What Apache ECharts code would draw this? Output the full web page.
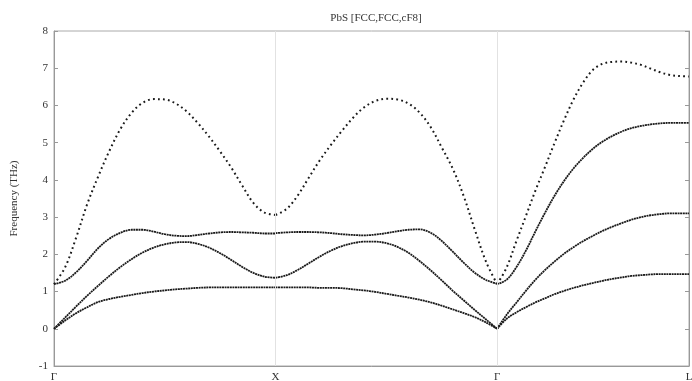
<!DOCTYPE html>
<html>
<head>
<meta charset="utf-8">
<script src="https://cdn.jsdelivr.net/npm/echarts@6/dist/echarts.min.js"></script>
<style>
  html, body { margin: 0; padding: 0; background: #fff; }
  #chart { width: 692px; height: 381px; }
</style>
</head>
<body>
<div id="chart"></div>
<script>
// High-symmetry path of the FCC Brillouin zone
const pathLabels = ['Γ', 'X', 'Γ', 'L'];
const pathTicks = [0, 1, 2, 2.866];
// Each segment is sampled at 21 q-points (start, length along the path)
const segStart = [0, 1, 2];
const segLength = [1, 1, 0.866];

// Phonon frequencies (THz), Γ → X
const taGX = [0, 0.22, 0.42, 0.58, 0.72, 0.80, 0.86, 0.91, 0.96, 1.00, 1.03, 1.06, 1.08, 1.10, 1.11, 1.11, 1.11, 1.11, 1.11, 1.11, 1.11];
const laGX = [0, 0.30, 0.60, 0.89, 1.16, 1.42, 1.66, 1.87, 2.05, 2.18, 2.27, 2.32, 2.33, 2.28, 2.18, 2.03, 1.85, 1.66, 1.50, 1.40, 1.37];
const toGX = [1.20, 1.29, 1.52, 1.83, 2.17, 2.42, 2.58, 2.66, 2.66, 2.61, 2.54, 2.50, 2.49, 2.52, 2.56, 2.59, 2.60, 2.59, 2.58, 2.56, 2.56];
const loGX = [1.20, 1.65, 2.45, 3.35, 4.10, 4.78, 5.37, 5.80, 6.07, 6.17, 6.16, 6.05, 5.83, 5.52, 5.16, 4.76, 4.33, 3.84, 3.38, 3.12, 3.06];

// X → Γ
const taXG = [1.11, 1.11, 1.11, 1.11, 1.10, 1.10, 1.09, 1.06, 1.03, 0.99, 0.94, 0.89, 0.84, 0.78, 0.71, 0.62, 0.52, 0.42, 0.31, 0.17, 0];
const laXG = [1.37, 1.44, 1.58, 1.76, 1.94, 2.10, 2.22, 2.30, 2.34, 2.34, 2.30, 2.20, 2.04, 1.82, 1.57, 1.30, 1.02, 0.76, 0.50, 0.25, 0];
const toXG = [2.57, 2.59, 2.60, 2.60, 2.59, 2.57, 2.54, 2.52, 2.51, 2.53, 2.57, 2.62, 2.66, 2.67, 2.58, 2.36, 2.07, 1.77, 1.50, 1.31, 1.21];
const loXG = [3.06, 3.22, 3.58, 4.06, 4.53, 4.94, 5.32, 5.67, 5.95, 6.12, 6.18, 6.16, 6.05, 5.81, 5.42, 4.87, 4.30, 3.55, 2.65, 1.80, 1.20];

// Γ → L
const taGL = [0, 0.27, 0.44, 0.58, 0.71, 0.82, 0.93, 1.02, 1.10, 1.17, 1.23, 1.29, 1.34, 1.38, 1.42, 1.44, 1.46, 1.47, 1.47, 1.47, 1.47];
const laGL = [0, 0.38, 0.70, 1.02, 1.32, 1.58, 1.81, 2.02, 2.20, 2.36, 2.50, 2.63, 2.74, 2.84, 2.93, 3.00, 3.05, 3.08, 3.10, 3.10, 3.10];
const toGL = [1.20, 1.32, 1.65, 2.10, 2.62, 3.12, 3.58, 3.98, 4.32, 4.60, 4.84, 5.03, 5.18, 5.30, 5.39, 5.45, 5.49, 5.52, 5.53, 5.53, 5.53];
const loGL = [1.20, 1.65, 2.35, 3.03, 3.72, 4.35, 5.00, 5.62, 6.18, 6.63, 6.96, 7.12, 7.17, 7.18, 7.15, 7.09, 6.99, 6.89, 6.82, 6.79, 6.78];

const branches = [
  { name: 'TA', segs: [taGX, taXG, taGL], sparse: false },
  { name: 'LA', segs: [laGX, laXG, laGL], sparse: false },
  { name: 'TO', segs: [toGX, toXG, toGL], sparse: false },
  { name: 'LO', segs: [loGX, loXG, loGL], sparse: true }
];

const serif = 'Liberation Serif, Times New Roman, serif';
const ink = '#1a1a1a';

const series = [];
branches.forEach(b => {
  b.segs.forEach((vals, s) => {
    const n = vals.length - 1;
    series.push({
      name: b.name,
      type: 'line',
      showSymbol: false,
      smooth: 0.35,
      silent: true,
      animation: false,
      data: vals.map((v, i) => [segStart[s] + segLength[s] * i / n, v]),
      lineStyle: b.sparse
        ? { color: ink, width: 2, type: [1.8, 3.2] }
        : { color: ink, width: 1.8, type: [2, 0.6] }
    });
  });
});

// Vertical guides at the interior high-symmetry points
series.push({
  type: 'line',
  data: [],
  silent: true,
  markLine: {
    silent: true,
    symbol: 'none',
    label: { show: false },
    lineStyle: { color: '#e2e2e2', width: 1, type: 'solid' },
    data: [{ xAxis: pathTicks[1] }, { xAxis: pathTicks[2] }]
  }
});

const chart = echarts.init(document.getElementById('chart'), null, { renderer: 'canvas' });
chart.setOption({
  animation: false,
  backgroundColor: '#fff',
  title: {
    text: 'PbS [FCC,FCC,cF8]',
    left: 371,
    textAlign: 'center',
    top: 8,
    textStyle: { fontFamily: serif, fontSize: 11, fontWeight: 'normal', color: '#333' }
  },
  grid: {
    left: 54, right: 3, top: 31, bottom: 15,
    outerBoundsMode: 'none',
    containLabel: false,
    show: true, borderColor: '#aaa', borderWidth: 1, backgroundColor: 'transparent'
  },
  xAxis: {
    type: 'value',
    min: 0,
    max: pathTicks[3],
    axisLine: { show: true, onZero: false, lineStyle: { color: '#999' } },
    axisTick: { show: false },
    splitLine: { show: false },
    axisLabel: {
      customValues: pathTicks,
      formatter: v => {
        const k = pathTicks.findIndex(t => Math.abs(t - v) < 1e-6);
        return k >= 0 ? pathLabels[k] : '';
      },
      fontFamily: serif, fontSize: 11, color: '#333', margin: 6
    }
  },
  yAxis: [
    {
      type: 'value',
      min: -1, max: 8, interval: 1,
      name: 'Frequency (THz)',
      nameLocation: 'middle',
      nameGap: 34,
      nameRotate: 90,
      nameTextStyle: { fontFamily: serif, fontSize: 11, color: '#333' },
      axisLine: { show: true, lineStyle: { color: '#999' } },
      axisTick: { show: true, inside: true, length: 4, lineStyle: { color: '#999' } },
      splitLine: { show: false },
      axisLabel: { fontFamily: serif, fontSize: 11, color: '#333', margin: 6 }
    },
    {
      type: 'value',
      position: 'right',
      min: -1, max: 8, interval: 1,
      axisLine: { show: true, lineStyle: { color: '#999' } },
      axisTick: { show: true, inside: true, length: 4, lineStyle: { color: '#999' } },
      splitLine: { show: false },
      axisLabel: { show: false }
    }
  ],
  series: series
});
</script>
</body>
</html>
